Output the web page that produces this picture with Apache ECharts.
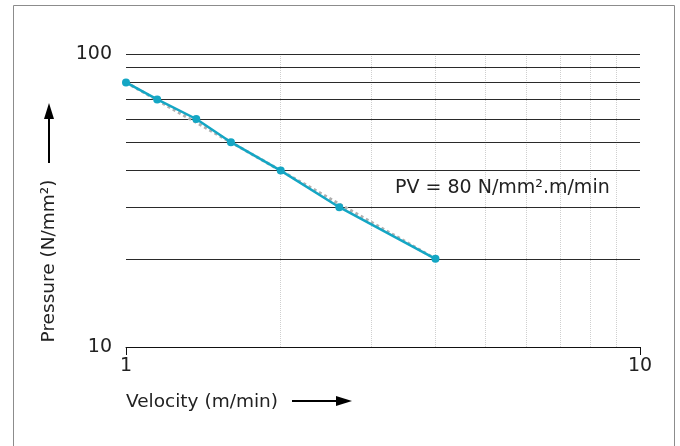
<!DOCTYPE html>
<html>
<head>
<meta charset="utf-8">
<style>html,body{margin:0;padding:0;background:#fff;}#c{width:680px;height:446px;}</style>
<script src="https://cdn.jsdelivr.net/npm/echarts@6/dist/echarts.min.js"></script>
</head>
<body>
<div id="c"></div>
<script>
// Measured points (velocity m/min, pressure N/mm²)
const measuredVelocity = [1, 1.15, 1.37, 1.6, 2, 2.6, 4];
const measuredPressure = [80, 70, 60, 50, 40, 30, 20];
// Theoretical PV = 80 curve (grey dotted)
const pvVelocity = [1, 1.143, 1.333, 1.6, 2, 2.667, 4];
const pvPressure = [80, 70, 60, 50, 40, 30, 20];
// Grid lines
const pressureGrid = [20, 30, 40, 50, 60, 70, 80, 90, 100];
const velocityGrid = [2, 3, 4, 5, 6, 7, 8, 9];
// Axis ranges / labels
const xRange = [1, 10];
const yRange = [10, 100];
const xTitle = 'Velocity (m/min)';
const yTitle = 'Pressure (N/mm²)';
const pvLabel = 'PV = 80 N/mm².m/min';

const FONT = '"DejaVu Sans", Verdana, sans-serif';
const chart = echarts.init(document.getElementById('c'), null, {renderer: 'canvas'});

const pairs = (xs, ys) => xs.map((x, i) => [x, ys[i]]);

chart.setOption({
  animation: false,
  backgroundColor: '#fff',
  grid: {left: 126, right: 40, top: 54, bottom: 99, containLabel: false},
  xAxis: {
    type: 'log', logBase: 10, min: xRange[0], max: xRange[1],
    axisLine: {show: true, lineStyle: {color: '#111', width: 1}},
    axisTick: {show: true, length: 8, lineStyle: {color: '#111', width: 1}},
    axisLabel: {color: '#222', fontSize: 19, fontFamily: FONT, margin: 10},
    splitLine: {show: false},
    minorTick: {show: false}
  },
  yAxis: {
    type: 'log', logBase: 10, min: yRange[0], max: yRange[1],
    axisLine: {show: false},
    axisTick: {show: false},
    axisLabel: {color: '#222', fontSize: 19, fontFamily: FONT, margin: 14},
    splitLine: {show: false}
  },
  series: [
    {
      type: 'line', data: [], z: 1, silent: true, symbol: 'none',
      markLine: {
        z: 1, silent: true, symbol: ['none', 'none'], animation: false,
        label: {show: false},
        data: velocityGrid.map(v => ({xAxis: v, lineStyle: {color: '#cfcfcf', type: 'dotted', width: 1}}))
          .concat(pressureGrid.map(p => ({yAxis: p, lineStyle: {color: '#2a2a2a', type: 'solid', width: 1}})))
      }
    },
    {
      type: 'line', data: pairs(pvVelocity, pvPressure), z: 2, silent: true,
      symbol: 'none',
      lineStyle: {color: '#b0b0b0', width: 3, type: [3, 3]}
    },
    {
      type: 'line', data: pairs(measuredVelocity, measuredPressure), z: 3,
      symbol: 'circle', symbolSize: 8,
      itemStyle: {color: '#14a6c4', borderWidth: 0},
      lineStyle: {color: '#14a6c4', width: 2.5}
    }
  ],
  graphic: [
    {type: 'rect', shape: {x: 13.5, y: 5.5, width: 661, height: 460}, style: {fill: 'none', stroke: '#8c8c8c', lineWidth: 1}, silent: true, z: 0},
    {type: 'text', x: 395, y: 188, style: {text: pvLabel, font: '19px ' + FONT, fill: '#222', verticalAlign: 'middle'}, z: 10},
    {type: 'text', x: 126, y: 402, style: {text: xTitle, font: '18.5px ' + FONT, fill: '#222', verticalAlign: 'middle'}, z: 10},
    {type: 'line', shape: {x1: 292, y1: 401, x2: 338, y2: 401}, style: {stroke: '#000', lineWidth: 2}, z: 10},
    {type: 'polygon', shape: {points: [[336, 396], [352, 401], [336, 406]]}, style: {fill: '#000'}, z: 10},
    {type: 'text', x: 49, y: 261, rotation: Math.PI / 2, style: {text: yTitle, font: '18.5px ' + FONT, fill: '#222', align: 'center', verticalAlign: 'middle'}, z: 10},
    {type: 'line', shape: {x1: 49, y1: 163, x2: 49, y2: 117}, style: {stroke: '#000', lineWidth: 2}, z: 10},
    {type: 'polygon', shape: {points: [[44, 119], [49, 103], [54, 119]]}, style: {fill: '#000'}, z: 10}
  ]
});
</script>
</body>
</html>
